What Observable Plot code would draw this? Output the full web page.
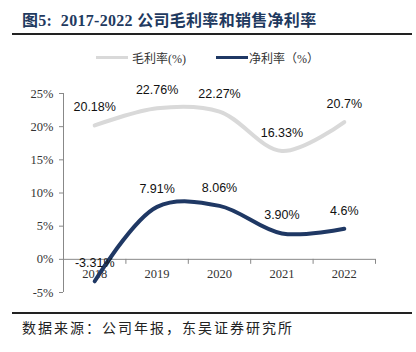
<!DOCTYPE html>
<html><head><meta charset="utf-8">
<script src="https://cdn.jsdelivr.net/npm/d3@7"></script>
<script src="https://cdn.jsdelivr.net/npm/@observablehq/plot@0.6"></script>
<style>
body{margin:0;width:416px;height:352px;background:#fff;overflow:hidden;font-family:"Liberation Serif","Noto Sans CJK SC",serif;}
#wrap{position:relative;width:416px;height:352px;}
#title{position:absolute;left:22px;top:7px;font-size:16px;font-weight:bold;color:#1f3a60;font-family:"Liberation Serif","Noto Sans CJK SC",serif;white-space:nowrap;letter-spacing:0.3px;}
#tline{position:absolute;left:12px;top:33px;width:400px;height:2px;background:#222;}
#legend{position:absolute;top:49px;left:0;width:416px;height:16px;font-size:12px;color:#333;}
.sw{position:absolute;top:7px;width:32px;height:3px;}
.lt{position:absolute;top:0;white-space:nowrap;}
#chart{position:absolute;left:0;top:75px;}
#fline{position:absolute;left:12px;top:312px;width:400px;height:1.5px;background:#222;}
#cap{position:absolute;left:22px;top:317px;font-size:14px;letter-spacing:2px;color:#222;white-space:nowrap;font-family:"Noto Sans CJK SC",sans-serif;}
</style></head>
<body><div id="wrap">
<div id="title">图5:&nbsp; 2017-2022 公司毛利率和销售净利率</div>
<div id="tline"></div>
<div id="legend"></div>
<div id="chart"></div>
<div id="fline"></div>
<div id="cap">数据来源：公司年报，东吴证券研究所</div>
</div>
<script>
const years = [2018, 2019, 2020, 2021, 2022];
const grossMargin = [20.18, 22.76, 22.27, 16.33, 20.7];
const netMargin = [-3.31, 7.91, 8.06, 3.90, 4.6];
const grossLabels = ["20.18%", "22.76%", "22.27%", "16.33%", "20.7%"];
const netLabels = ["-3.31%", "7.91%", "8.06%", "3.90%", "4.6%"];
const yTicks = [-5, 0, 5, 10, 15, 20, 25];
const seriesNames = ["毛利率(%)", "净利率（%）"];
const colors = ["#d9d9d9", "#1f3864"];

const gross = years.map((y, i) => ({year: y, v: grossMargin[i], label: grossLabels[i]}));
const net = years.map((y, i) => ({year: y, v: netMargin[i], label: netLabels[i]}));
const bounds = [years[0] - 0.5, ...years.map(y => y + 0.5)];

// legend
const lg = document.getElementById("legend");
lg.innerHTML = `
<div class="sw" style="left:96px;background:${colors[0]}"></div><div class="lt" style="left:132px">${seriesNames[0]}</div>
<div class="sw" style="left:216px;background:${colors[1]}"></div><div class="lt" style="left:249px">${seriesNames[1]}</div>`;

const chart = Plot.plot({
  width: 416, height: 230,
  marginLeft: 63, marginRight: 41, marginTop: 18, marginBottom: 13,
  x: {type: "linear", domain: [bounds[0], bounds[bounds.length - 1]], axis: null},
  y: {domain: [-5, 25], label: null, axis: null},
  style: {fontFamily: "Liberation Serif, serif", fontSize: "12px", color: "#333"},
  marks: [
    Plot.axisY({ticks: yTicks, tickFormat: d => d + "%", tickSize: 4, tickPadding: 6, stroke: "#888", fontSize: 12.5, color: "#333", label: null}),
    Plot.ruleX([bounds[0]], {y1: -5, y2: 25, stroke: "#888"}),
    Plot.ruleY([0], {stroke: "#888"}),
    Plot.ruleX(bounds, {y1: 0, y2: 0, insetBottom: -5, stroke: "#888"}),
    Plot.text(years, {x: d => d, y: 0, dy: 15, text: d => String(d), fontSize: 12.5, fill: "#333", fontFamily: "Liberation Serif, serif"}),
    Plot.line(gross, {x: "year", y: "v", stroke: colors[0], strokeWidth: 4, curve: "catmull-rom"}),
    Plot.line(net, {x: "year", y: "v", stroke: colors[1], strokeWidth: 4, curve: "catmull-rom"}),
    Plot.text(gross, {x: "year", y: "v", text: "label", dy: -18, fontSize: 12.5, fill: "#111", fontFamily: "Liberation Sans, Arial, sans-serif"}),
    Plot.text(net, {x: "year", y: "v", text: "label", dy: -18, fontSize: 12.5, fill: "#111", fontFamily: "Liberation Sans, Arial, sans-serif"})
  ]
});
document.getElementById("chart").appendChild(chart);
</script>
</body></html>
